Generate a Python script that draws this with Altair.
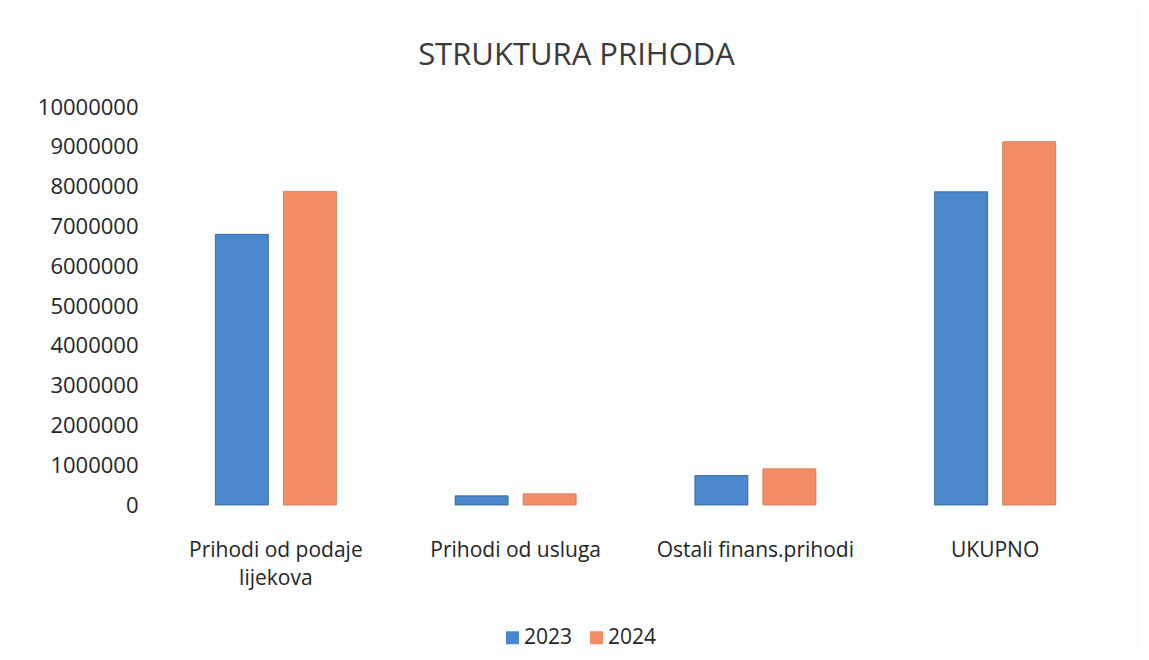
import altair as alt
import pandas as pd

categories = ["Prihodi od podaje lijekova", "Prihodi od usluga", "Ostali finans.prihodi", "UKUPNO"]
years = ["2023", "2024"]
values_2023 = [6800000, 230000, 740000, 7870000]
values_2024 = [7880000, 280000, 910000, 9130000]

rows = []
for c, v in zip(categories, values_2023):
    rows.append({"kategorija": c, "godina": "2023", "iznos": v})
for c, v in zip(categories, values_2024):
    rows.append({"kategorija": c, "godina": "2024", "iznos": v})
df = pd.DataFrame(rows)

FONT = "Open Sans"

label_expr = ("datum.value == 'Prihodi od podaje lijekova' ? "
              "['Prihodi od podaje', 'lijekova'] : datum.value")

chart = alt.Chart(df).mark_bar(strokeWidth=0.8).encode(
    x=alt.X("kategorija:N", sort=categories, title=None,
            scale=alt.Scale(paddingInner=0, paddingOuter=0),
            axis=alt.Axis(labelAngle=0, labelExpr=label_expr, domain=False, ticks=False,
                          labelFont=FONT, labelFontSize=21, labelColor="#262626",
                          labelPadding=34, labelLineHeight=28, labelLimit=400)),
    xOffset=alt.XOffset("godina:N", sort=years,
                        scale=alt.Scale(paddingInner=0.2206, paddingOuter=0.873)),
    y=alt.Y("iznos:Q", title=None,
            scale=alt.Scale(domain=[0, 10000000], nice=False),
            axis=alt.Axis(values=list(range(0, 10000001, 1000000)), format="d",
                          domain=False, ticks=False, grid=False,
                          labelFont=FONT, labelFontSize=22, labelColor="#262626",
                          labelPadding=18)),
    color=alt.Color("godina:N", sort=years, title=None,
                    scale=alt.Scale(domain=years, range=["#4b88cb", "#f58d64"]),
                    legend=alt.Legend(orient="none", legendX=346, legendY=520,
                                      direction="horizontal", symbolType="square",
                                      symbolSize=169, symbolStrokeWidth=0,
                                      labelFont=FONT, labelFontSize=21,
                                      labelColor="#262626", columnPadding=13,
                                      labelOffset=1, padding=0)),
    stroke=alt.Stroke("godina:N", sort=years, legend=None,
                      scale=alt.Scale(domain=years, range=["#2f5f96", "#c9775a"])),
).properties(
    width=959,
    height=398,
    title=alt.Title("STRUKTURA PRIHODA", font=FONT, fontSize=31, fontWeight="normal",
                    color="#3a3a3a", anchor="middle", frame="group", dx=-59, offset=24),
    background="#fcfdfd",
    autosize=alt.AutoSizeParams(type="none"),
    padding={"left": 148, "top": 99, "right": 26, "bottom": 146},
).configure_view(stroke=None)

chart.save("out.html", embed_options={"renderer": "svg", "actions": False})
